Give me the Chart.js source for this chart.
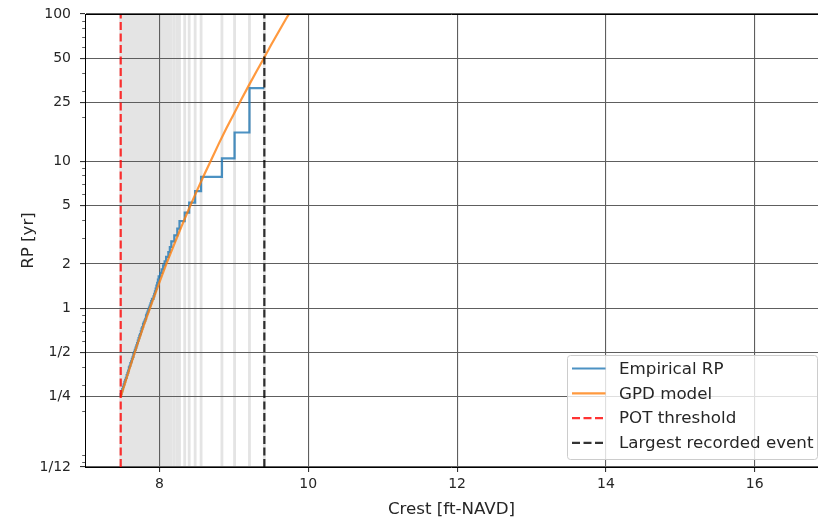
<!DOCTYPE html>
<html>
<head>
<meta charset="utf-8">
<title>Return period of crests</title>
<script src="https://cdn.jsdelivr.net/npm/chart.js@4.4.1/dist/chart.umd.min.js"></script>
<style>
    html, body { margin: 0; padding: 0; background: #fff; overflow: hidden; }
    #wrap { position: relative; width: 818px; height: 523px; }
</style>
</head>
<body>
<div id="wrap"><canvas id="rp-chart"></canvas></div>
<script>
// Peak crests above the POT threshold, largest first [ft-NAVD]
const crests = [
    9.41, 9.21, 9.01, 8.84, 8.56, 8.48, 8.40, 8.34, 8.27, 8.24,
    8.20, 8.16, 8.14, 8.12, 8.09, 8.07, 8.05, 8.03, 8.01, 7.99,
    7.98, 7.97, 7.96, 7.95, 7.94, 7.93, 7.92, 7.90, 7.89, 7.88,
    7.87, 7.86, 7.85, 7.84, 7.83, 7.82, 7.82, 7.81, 7.80, 7.79,
    7.78, 7.78, 7.77, 7.76, 7.76, 7.75, 7.75, 7.74, 7.73, 7.73,
    7.72, 7.72, 7.71, 7.71, 7.70, 7.70, 7.69, 7.69, 7.68, 7.68,
    7.67, 7.67, 7.66, 7.66, 7.65, 7.65, 7.65, 7.64, 7.64, 7.63,
    7.63, 7.63, 7.62, 7.62, 7.61, 7.61, 7.61, 7.60, 7.60, 7.59,
    7.59, 7.59, 7.59, 7.58, 7.58, 7.58, 7.57, 7.57, 7.57, 7.56,
    7.56, 7.56, 7.56, 7.55, 7.55, 7.55, 7.54, 7.54, 7.54, 7.53,
    7.53, 7.53, 7.53, 7.52, 7.52, 7.52, 7.52, 7.51, 7.51, 7.51,
    7.51, 7.50, 7.50, 7.50, 7.50, 7.49, 7.49, 7.49, 7.49, 7.49,
    7.48, 7.48, 7.48, 7.48, 7.48
];
const recordYears = 31.3;
const threshold = 7.48;
const largestEvent = 9.41;

// GPD model curve
const gpdCrest = [7.48, 7.6, 7.7, 7.8, 7.9, 8.0, 8.1, 8.2, 8.3, 8.4, 8.5, 8.6,
                  8.7, 8.8, 8.9, 9.0, 9.1, 9.2, 9.3, 9.4, 9.5, 9.6, 9.7, 9.8];
const gpdRP = [0.25, 0.39, 0.56, 0.79, 1.09, 1.50, 2.04, 2.73, 3.63, 4.78, 6.23, 8.05,
               10.3, 13.2, 16.7, 20.9, 26.2, 32.6, 40.3, 49.6, 61.5, 75.5, 92.5, 112];

// Axes
const yTickValues = [1 / 12, 0.25, 0.5, 1, 2, 5, 10, 25, 50, 100];
const yTickLabels = ['1/12', '1/4', '1/2', '1', '2', '5', '10', '25', '50', '100'];
const yMinorTicks = [0.09, 0.1, 0.2, 0.3, 0.4, 0.6, 0.7, 0.8, 0.9, 3, 4, 6, 7, 8, 9,
                     20, 30, 40, 60, 70, 80, 90];
const xTickValues = [8, 10, 12, 14, 16];
const xMin = 7;
const xMax = 16.85;

const legendLabels = ['Empirical RP', 'GPD model', 'POT threshold', 'Largest recorded event'];

const FONT = 'DejaVu Sans';
const TEXT = '#262626';
const GRID = '#5e5e5e';
const colors = {
    empirical: 'rgba(31, 119, 180, 0.8)',
    gpd: 'rgba(255, 127, 14, 0.8)',
    threshold: 'rgba(255, 0, 0, 0.8)',
    largest: 'rgba(0, 0, 0, 0.8)'
};
const DASH = [8, 3.5];

// empirical RP = record length / rank, sorted by crest ascending for the step line
const empiricalPoints = crests.map((c, i) => ({ x: c, y: recordYears / (i + 1) })).reverse();
const gpdPoints = gpdCrest.map((c, i) => ({ x: c, y: gpdRP[i] }));
const yMin = yTickValues[0];
const yMax = yTickValues[yTickValues.length - 1];

// light gray line at each event crest
const eventLines = {
    id: 'eventLines',
    beforeDraw(chart) {
        const { ctx, chartArea, scales } = chart;
        ctx.save();
        ctx.beginPath();
        ctx.rect(chartArea.left, chartArea.top, chartArea.width, chartArea.height);
        ctx.clip();
        ctx.beginPath();
        crests.forEach(c => {
            const px = scales.x.getPixelForValue(c);
            ctx.rect(px - 1.4, chartArea.top, 2.8, chartArea.height);
        });
        ctx.fillStyle = '#e4e4e4';
        ctx.fill();
        ctx.restore();
    }
};

// minor ticks, top spine and legend box
const decorations = {
    id: 'decorations',
    afterDraw(chart) {
        const { ctx, chartArea, scales } = chart;
        ctx.save();
        ctx.strokeStyle = '#333';
        ctx.lineWidth = 0.8;
        yMinorTicks.forEach(v => {
            const py = Math.round(scales.y.getPixelForValue(v)) + 0.5;
            ctx.beginPath();
            ctx.moveTo(chartArea.left - 2.8, py);
            ctx.lineTo(chartArea.left, py);
            ctx.stroke();
        });

        ctx.strokeStyle = '#000';
        ctx.lineWidth = 1;
        ctx.beginPath();
        ctx.moveTo(chartArea.left, Math.round(chartArea.top) + 0.5);
        ctx.lineTo(chartArea.right, Math.round(chartArea.top) + 0.5);
        ctx.stroke();

        // legend
        const styles = [
            { color: colors.empirical, dash: [] },
            { color: colors.gpd, dash: [] },
            { color: colors.threshold, dash: DASH },
            { color: colors.largest, dash: DASH }
        ];
        const boxRight = chartArea.right - 1;
        const boxBottom = chartArea.bottom - 8;
        const boxLeft = 567;
        const boxTop = 355;
        ctx.beginPath();
        ctx.roundRect(boxLeft + 0.5, boxTop + 0.5, boxRight - boxLeft, boxBottom - boxTop, 3);
        ctx.fillStyle = 'rgba(255, 255, 255, 0.8)';
        ctx.fill();
        ctx.strokeStyle = '#cccccc';
        ctx.lineWidth = 1;
        ctx.stroke();

        ctx.font = '16.7px "' + FONT + '"';
        ctx.textBaseline = 'middle';
        ctx.textAlign = 'left';
        legendLabels.forEach((label, i) => {
            const cy = boxTop + 13.5 + i * 24.8;
            ctx.beginPath();
            ctx.setLineDash(styles[i].dash);
            ctx.strokeStyle = styles[i].color;
            ctx.lineWidth = 2.2;
            ctx.moveTo(boxLeft + 5, cy);
            ctx.lineTo(boxLeft + 38.5, cy);
            ctx.stroke();
            ctx.setLineDash([]);
            ctx.fillStyle = TEXT;
            ctx.fillText(label, boxLeft + 52, cy + 1);
        });
        ctx.restore();
    }
};

const ctx = document.getElementById('rp-chart').getContext('2d');
new Chart(ctx, {
    type: 'line',
    data: {
        datasets: [
            {
                label: legendLabels[0],
                data: empiricalPoints,
                borderColor: colors.empirical,
                borderWidth: 2.2,
                stepped: 'after',
                pointRadius: 0,
                order: 3
            },
            {
                label: legendLabels[1],
                data: gpdPoints,
                borderColor: colors.gpd,
                borderWidth: 2.2,
                pointRadius: 0,
                order: 2
            },
            {
                label: legendLabels[2],
                data: [{ x: threshold, y: yMin }, { x: threshold, y: yMax }],
                borderColor: colors.threshold,
                borderWidth: 2.2,
                borderDash: DASH,
                pointRadius: 0,
                order: 1
            },
            {
                label: legendLabels[3],
                data: [{ x: largestEvent, y: yMin }, { x: largestEvent, y: yMax }],
                borderColor: colors.largest,
                borderWidth: 2.2,
                borderDash: DASH,
                pointRadius: 0,
                order: 0
            }
        ]
    },
    options: {
        responsive: true,
        maintainAspectRatio: false,
        devicePixelRatio: 1,
        animation: false,
        layout: { padding: { left: 0, right: 0, top: 14, bottom: 0 } },
        plugins: {
            legend: { display: false },
            tooltip: { enabled: false }
        },
        scales: {
            x: {
                type: 'linear',
                min: xMin,
                max: xMax,
                afterBuildTicks: scale => {
                    scale.ticks = xTickValues.map(v => ({ value: v }));
                },
                afterFit: scale => { scale.height = 56; },
                grid: { color: GRID, lineWidth: 1.1, tickLength: 5, tickColor: '#333' },
                border: { color: '#000', width: 1 },
                ticks: {
                    autoSkip: false,
                    maxRotation: 0,
                    padding: 4,
                    color: TEXT,
                    font: { family: FONT, size: 14 }
                },
                title: {
                    display: true,
                    text: 'Crest [ft-NAVD]',
                    color: TEXT,
                    font: { family: FONT, size: 16.7 },
                    padding: { top: 0, bottom: 3 }
                }
            },
            y: {
                type: 'logarithmic',
                min: yMin,
                max: yMax,
                afterBuildTicks: scale => {
                    scale.ticks = yTickValues.map(v => ({ value: v }));
                },
                afterFit: scale => {
                    scale.width = 85;
                    scale.paddingTop = 0;
                    scale.paddingBottom = 0;
                },
                grid: { color: GRID, lineWidth: 1.1, tickLength: 5, tickColor: '#333' },
                border: { color: '#000', width: 1 },
                ticks: {
                    autoSkip: false,
                    padding: 9,
                    color: TEXT,
                    font: { family: FONT, size: 14 },
                    callback: (value, index) => yTickLabels[index]
                },
                title: {
                    display: true,
                    text: 'RP [yr]',
                    color: TEXT,
                    font: { family: FONT, size: 16.7 },
                    padding: { top: 19, bottom: 0 }
                }
            }
        }
    },
    plugins: [eventLines, decorations]
});
</script>
</body>
</html>
